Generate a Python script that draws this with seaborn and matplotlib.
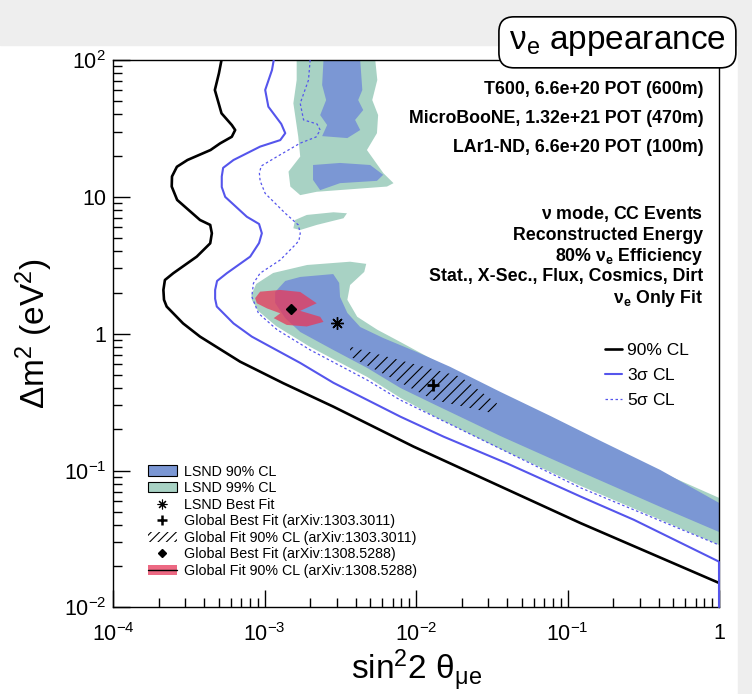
import matplotlib
matplotlib.use("Agg")
import seaborn as sns
import matplotlib.pyplot as plt
from matplotlib.patches import Patch, Rectangle
from matplotlib.lines import Line2D
from matplotlib.ticker import NullFormatter

sns.set_theme(style="ticks")
plt.rcParams["font.family"] = ["Liberation Sans", "DejaVu Sans"]
plt.rcParams["mathtext.default"] = "regular"
plt.rcParams["hatch.linewidth"] = 0.8
for key in ["text.color", "axes.labelcolor", "xtick.color", "ytick.color", "axes.edgecolor"]:
    plt.rcParams[key] = "black"

# sensitivity contours (sin^2 2theta, dm^2)
cl90_x = [5.2e-4, 5.0e-4, 4.7e-4, 5.2e-4, 6.08e-4, 6.4e-4, 6.08e-4, 5.09e-4, 4.4e-4, 3.1e-4, 2.64e-4,
          2.45e-4, 2.44e-4, 2.65e-4, 3.75e-4, 4.38e-4, 4.49e-4, 4.38e-4, 3.57e-4, 2.5e-4, 2.2e-4,
          2.15e-4, 2.17e-4, 2.26e-4, 2.9e-4, 3.75e-4, 6.9e-4, 1.33e-3, 2.85e-3, 9.6e-3, 0.122, 1.0]
cl90_y = [100, 80, 60.4, 40.8, 33.5, 30.8, 27.5, 24.6, 22.0, 18.6, 16.6,
          14.1, 11.9, 9.5, 6.78, 6.24, 5.42, 4.58, 3.66, 2.77, 2.47,
          2.09, 1.77, 1.58, 1.19, 0.953, 0.625, 0.435, 0.293, 0.150, 0.0413, 0.0151]

sig3_x = [1.15e-3, 1.12e-3, 1.01e-3, 1.06e-3, 1.29e-3, 1.37e-3, 1.27e-3, 9.35e-4, 6.24e-4, 5.33e-4, 5.22e-4,
          5.22e-4, 5.5e-4, 7.64e-4, 9.2e-4, 9.6e-4, 9.2e-4, 8.04e-4, 5.64e-4, 4.86e-4, 4.72e-4,
          4.72e-4, 4.84e-4, 6.24e-4, 8.24e-4, 1.04e-3, 1.72e-3, 2.85e-3, 7.87e-3, 1.52e-2, 3.98e-2,
          0.122, 0.274, 1.0]
sig3_y = [100, 84.5, 60.4, 45.6, 34.1, 29.2, 26.0, 23.3, 18.6, 16.3, 14.1,
          11.8, 10.0, 7.16, 6.34, 5.42, 4.60, 3.66, 2.77, 2.43, 2.09,
          1.80, 1.58, 1.19, 0.953, 0.828, 0.612, 0.438, 0.248, 0.177, 0.113,
          0.0646, 0.0437, 0.0216]

sig5_x = [2.0e-3, 1.95e-3, 1.72e-3, 1.81e-3, 2.22e-3, 2.33e-3, 2.19e-3, 1.72e-3, 1.21e-3, 9.5e-4, 9.25e-4,
          9.35e-4, 1.01e-3, 1.37e-3, 1.67e-3, 1.72e-3, 1.69e-3, 1.63e-3, 1.27e-3, 9.35e-4, 8.45e-4,
          8.24e-4, 9.12e-4, 1.21e-3, 2.0e-3, 4.74e-3, 7.87e-3, 0.122, 1.0]
sig5_y = [100, 71.4, 48.3, 36.5, 34.1, 30.8, 27.4, 24.7, 19.7, 16.8, 14.9,
          13.1, 10.6, 7.59, 6.24, 5.42, 4.84, 4.58, 3.46, 2.77, 2.34,
          1.87, 1.41, 1.07, 0.762, 0.46, 0.328, 0.0748, 0.0286]

# LSND allowed regions
lsnd99_band_x = [8.2e-4, 8.8e-4, 1.14e-3, 1.91e-3, 3.67e-3, 4.69e-3, 4.55e-3, 3.67e-3, 3.52e-3, 4.09e-3,
                 5.55e-3, 7.87e-3, 1.30e-2, 2.17e-2, 4.19e-2, 7.69e-2, 0.165, 0.41, 1.0, 1.0, 0.41, 0.122,
                 3.6e-2, 1.3e-2, 7.87e-3, 4.77e-3, 2.0e-3, 1.19e-3, 9.07e-4, 8.24e-4]
lsnd99_band_y = [1.92, 2.31, 2.78, 3.18, 3.36, 3.24, 2.83, 2.27, 1.77, 1.33,
                 1.07, 0.871, 0.644, 0.475, 0.328, 0.234, 0.157, 0.0979, 0.0632, 0.0286, 0.0437, 0.0773,
                 0.144, 0.251, 0.340, 0.483, 0.801, 1.14, 1.47, 1.77]
lsnd99_top_x = [1.63e-3, 5.38e-3, 5.55e-3, 5.14e-3, 5.62e-3, 5.52e-3, 4.74e-3, 6.09e-3, 7.10e-3, 6.43e-3,
                2.21e-3, 1.72e-3, 1.48e-3, 1.44e-3, 1.72e-3, 1.67e-3, 1.55e-3, 1.63e-3]
lsnd99_top_y = [100, 100, 71.5, 51, 39.6, 29.2, 22, 14.9, 12.6, 11.9,
                10.9, 10.3, 11.9, 15.3, 19.7, 27.5, 48.3, 71.5]
lsnd99_isl_x = [1.59e-3, 1.90e-3, 2.85e-3, 3.50e-3, 3.32e-3, 2.21e-3, 1.72e-3, 1.55e-3]
lsnd99_isl_y = [6.78, 7.38, 7.72, 7.59, 6.98, 6.24, 5.73, 5.90]

lsnd90_band_x = [1.175e-3, 1.37e-3, 1.72e-3, 2.84e-3, 3.11e-3, 3.15e-3, 3.52e-3, 4.28e-3, 6.07e-3, 1.01e-2,
                 1.68e-2, 3.6e-2, 7.69e-2, 0.165, 0.41, 1.0, 1.0, 0.41, 0.122, 3.6e-2, 1.3e-2, 7.87e-3,
                 4.77e-3, 2.84e-3, 1.72e-3, 1.37e-3, 1.175e-3]
lsnd90_band_y = [2.02, 2.43, 2.60, 2.73, 2.35, 1.86, 1.42, 1.12, 0.931, 0.736,
                 0.573, 0.376, 0.251, 0.165, 0.101, 0.0581, 0.0356, 0.0543, 0.0979, 0.179, 0.307, 0.402,
                 0.562, 0.762, 1.03, 1.30, 1.68]
lsnd90_top_x = [2.45e-3, 4.28e-3, 4.42e-3, 4.15e-3, 4.48e-3, 3.96e-3, 4.28e-3, 3.52e-3, 2.40e-3, 2.59e-3,
                2.33e-3, 2.55e-3, 2.40e-3]
lsnd90_top_y = [100, 100, 60.4, 51, 43.1, 36.5, 30.8, 26.9, 27.8, 33.5, 39.6, 51, 65.7]
lsnd90_blob_x = [2.09e-3, 3.15e-3, 4.98e-3, 6.07e-3, 5.52e-3, 3.15e-3, 2.33e-3, 2.09e-3]
lsnd90_blob_y = [17.1, 17.7, 17.1, 14.5, 13.1, 12.6, 11.2, 13.3]

# global fits
g1303_x = [3.67e-3, 1.96e-2, 3.42e-2, 3.25e-2, 1.31e-2, 3.67e-3]
g1303_y = [0.805, 0.486, 0.310, 0.262, 0.328, 0.681]
g1308_x = [8.67e-4, 9.35e-4, 1.27e-3, 1.72e-3, 2.21e-3, 1.72e-3, 2.33e-3, 2.45e-3, 1.90e-3,
           1.40e-3, 1.15e-3, 1.27e-3, 1.04e-3, 8.89e-4]
g1308_y = [1.82, 2.03, 2.09, 2.02, 1.67, 1.47, 1.33, 1.22, 1.13,
           1.16, 1.30, 1.41, 1.53, 1.67]

lsnd_best = ([3.0e-3], [1.2])
g1303_best = ([1.3e-2], [0.42])
g1308_best = ([1.5e-3], [1.52])

x_ticks = [1e-4, 1e-3, 1e-2, 1e-1, 1]
x_tick_labels = ["$10^{-4}$", "$10^{-3}$", "$10^{-2}$", "$10^{-1}$", "1"]
y_ticks = [1e-2, 1e-1, 1, 10, 100]
y_tick_labels = ["$10^{-2}$", "$10^{-1}$", "1", "10", "$10^{2}$"]

exposure_lines = ["T600, 6.6e+20 POT (600m)",
                  "MicroBooNE, 1.32e+21 POT (470m)",
                  "LAr1-ND, 6.6e+20 POT (100m)"]
setup_lines = [r"$\nu$ mode, CC Events",
               "Reconstructed Energy",
               r"80% $\nu_{e}$ Efficiency",
               "Stat., X-Sec., Flux, Cosmics, Dirt",
               r"$\nu_{e}$ Only Fit"]
region_labels = ["LSND 90% CL", "LSND 99% CL", "LSND Best Fit",
                 "Global Best Fit (arXiv:1303.3011)", "Global Fit 90% CL (arXiv:1303.3011)",
                 "Global Best Fit (arXiv:1308.5288)", "Global Fit 90% CL (arXiv:1308.5288)"]
cl_labels = ["90% CL", r"3$\sigma$ CL", r"5$\sigma$ CL"]

BLUE_LINE = "#5555ec"
FILL90 = "#7b97d4"
FILL99 = "#a8d2c4"
RED = "#e8375a"

fig = plt.figure(figsize=(7.52, 6.94), dpi=100)
fig.patches.append(Rectangle((0, 1 - 45 / 694), 1, 45 / 694, transform=fig.transFigure,
                             color="#eeeeee", zorder=-5))
fig.patches.append(Rectangle((738 / 752, 0), 14 / 752, 1, transform=fig.transFigure,
                             color="#eeeeee", zorder=-5))

ax = fig.add_axes([0.1503, 0.1247, 0.8059, 0.7888])
ax.set_xscale("log")
ax.set_yscale("log")

# allowed regions
for xs, ys in [(lsnd99_band_x, lsnd99_band_y), (lsnd99_top_x, lsnd99_top_y), (lsnd99_isl_x, lsnd99_isl_y)]:
    ax.fill(xs, ys, color=FILL99, lw=0, zorder=1)
for xs, ys in [(lsnd90_band_x, lsnd90_band_y), (lsnd90_top_x, lsnd90_top_y), (lsnd90_blob_x, lsnd90_blob_y)]:
    ax.fill(xs, ys, color=FILL90, lw=0, zorder=2)
ax.fill(g1303_x, g1303_y, facecolor="none", edgecolor="black", hatch="///", lw=0, zorder=3)
ax.fill(g1308_x, g1308_y, color=RED, alpha=0.75, lw=0, zorder=3)

# sensitivity curves
line_kw = dict(sort=False, estimator=None, ax=ax, zorder=4, solid_joinstyle="round")
sns.lineplot(x=cl90_x, y=cl90_y, color="black", linewidth=1.9, **line_kw)
sns.lineplot(x=sig3_x, y=sig3_y, color=BLUE_LINE, linewidth=1.5, **line_kw)
sns.lineplot(x=sig5_x, y=sig5_y, color=BLUE_LINE, linewidth=0.9, linestyle=(0, (2, 2)), **line_kw)
ax.plot([sig3_x[-1], sig3_x[-1]], [sig3_y[-1], y_ticks[0]], color=BLUE_LINE, lw=1.5, clip_on=False, zorder=4)

ax.plot(*lsnd_best, ls="none", marker=(8, 2, 0), ms=9, mew=1.0, color="black", zorder=5)
ax.plot(*g1303_best, ls="none", marker="+", ms=9, mew=2.0, color="black", zorder=5)
ax.plot(*g1308_best, ls="none", marker="D", ms=5, color="black", zorder=5)

ax.set_xlim(1e-4, 1)
ax.set_ylim(1e-2, 1e2)
ax.set_xticks(x_ticks, x_tick_labels)
ax.set_yticks(y_ticks, y_tick_labels)
ax.xaxis.set_minor_formatter(NullFormatter())
ax.yaxis.set_minor_formatter(NullFormatter())
ax.tick_params(which="both", direction="in", top=False, right=False, width=1, labelsize=15.5)
ax.tick_params(which="major", length=12.5)
ax.tick_params(which="minor", length=6.5)
ax.tick_params(axis="x", pad=11)
ax.tick_params(axis="y", pad=5)
for s in ax.spines.values():
    s.set_linewidth(1)
    s.set_color("black")

ax.set_xlabel(r"sin$^{2}$2 $\theta_{\mu e}$", fontsize=24)
ax.set_ylabel(r"$\Delta$m$^{2}$ (eV$^{2}$)", fontsize=24)
ax.xaxis.set_label_coords(0.5, -0.072)
ax.yaxis.set_label_coords(-0.095, 0.5)

for txt, yy in zip(exposure_lines, [0.947, 0.894, 0.840]):
    ax.text(0.974, yy, txt, transform=ax.transAxes, ha="right", va="center", fontsize=12.8, fontweight="bold")
for txt, yy in zip(setup_lines, [0.719, 0.680, 0.642, 0.604, 0.565]):
    ax.text(0.974, yy, txt, transform=ax.transAxes, ha="right", va="center", fontsize=12.8, fontweight="bold")

region_handles = [
    Patch(facecolor=FILL90, edgecolor="black", lw=0.8),
    Patch(facecolor=FILL99, edgecolor="black", lw=0.8),
    Line2D([], [], ls="none", marker=(8, 2, 0), ms=7, mew=0.8, color="black"),
    Line2D([], [], ls="none", marker="+", ms=7, mew=1.8, color="black"),
    Patch(facecolor="none", edgecolor="black", hatch="////", lw=0),
    Line2D([], [], ls="none", marker="D", ms=4, color="black"),
    (Patch(facecolor=RED, alpha=0.75, lw=0), Line2D([], [], color="black", lw=1)),
]
leg1 = ax.legend(region_handles, region_labels, loc="upper left", bbox_to_anchor=(0.058, 0.261),
                 frameon=False, fontsize=10.3, handlelength=2.0, handleheight=0.75, handletextpad=0.5,
                 labelspacing=0.18, borderpad=0, borderaxespad=0)
ax.add_artist(leg1)

cl_handles = [Line2D([], [], color="black", lw=1.9),
              Line2D([], [], color=BLUE_LINE, lw=1.5),
              Line2D([], [], color=BLUE_LINE, lw=0.9, ls=(0, (2, 2)))]
ax.legend(cl_handles, cl_labels, loc="upper left", bbox_to_anchor=(0.812, 0.483), frameon=False,
          fontsize=12.5, handlelength=0.95, handletextpad=0.3, labelspacing=0.52, borderpad=0,
          borderaxespad=0)

fig.text(0.821, 0.939, r"$\nu_{e}$ appearance", ha="center", va="center", fontsize=24, zorder=10,
         bbox=dict(boxstyle="round,pad=0.3,rounding_size=0.45", fc="white", ec="black", lw=1.2))

fig.savefig("out.png", dpi=100)
